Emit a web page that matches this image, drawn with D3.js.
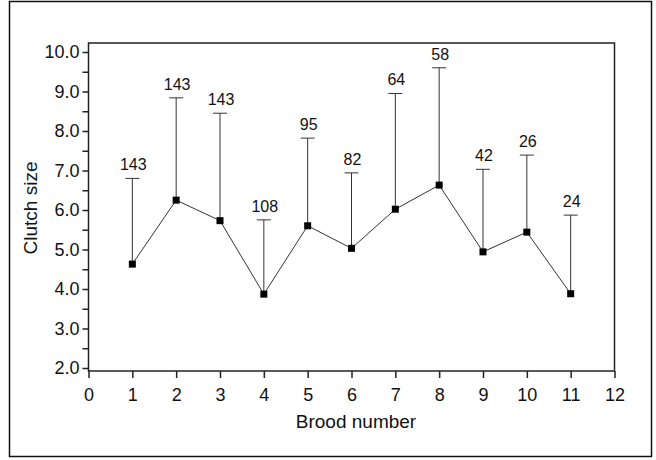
<!DOCTYPE html>
<html>
<head>
<meta charset="utf-8">
<script src="https://cdn.jsdelivr.net/npm/d3@7"></script>
<style>
  body { margin: 0; background: #fff; }
  text { font-family: "Liberation Sans", Arial, sans-serif; fill: #111; }
</style>
</head>
<body>
<div id="chart"></div>
<script>
// brood number, mean clutch size, upper end of the bar and n over each bar
var brood = [1, 2, 3, 4, 5, 6, 7, 8, 9, 10, 11];
var meanSize = [4.63, 6.25, 5.73, 3.87, 5.60, 5.03, 6.02, 6.63, 4.94, 5.44, 3.88];
var upperSize = [6.80, 8.84, 8.45, 5.75, 7.82, 6.94, 8.95, 9.60, 7.03, 7.39, 5.87];
var nLabels = ["143", "143", "143", "108", "95", "82", "64", "58", "42", "26", "24"];
var xTicks = [0, 1, 2, 3, 4, 5, 6, 7, 8, 9, 10, 11, 12];
var yTicks = [2, 2.5, 3, 3.5, 4, 4.5, 5, 5.5, 6, 6.5, 7, 7.5, 8, 8.5, 9, 9.5, 10];

var width = 656,
  height = 460;

var svg = d3
  .select("#chart")
  .append("svg")
  .attr("width", width)
  .attr("height", height);

// outer frame
svg
  .append("rect")
  .attr("x", 9.5)
  .attr("y", 1.5)
  .attr("width", 642)
  .attr("height", 455)
  .attr("fill", "none")
  .attr("stroke", "#111")
  .attr("stroke-width", 1.5);

var x = d3.scaleLinear().domain([0, 12]).range([88.5, 614.5]);
var y = d3.scaleLinear().domain([1.924, 10.228]).range([371, 43]);

// plot box
svg
  .append("rect")
  .attr("x", x(0))
  .attr("y", y.range()[1])
  .attr("width", x(12) - x(0))
  .attr("height", y.range()[0] - y.range()[1])
  .attr("fill", "none")
  .attr("stroke", "#222")
  .attr("stroke-width", 1.5);

var yAxis = svg
  .append("g")
  .attr("transform", "translate(" + x(0) + ",0)")
  .call(
    d3
      .axisLeft(y)
      .tickValues(yTicks)
      .tickSize(6)
      .tickPadding(3)
      .tickFormat(function(d) {
        return d % 1 === 0 ? d3.format(".1f")(d) : "";
      })
  );
yAxis.select(".domain").remove();
yAxis.selectAll("line").attr("stroke", "#222").attr("stroke-width", 1.5);
yAxis
  .selectAll("text")
  .style("font-family", "Liberation Sans, Arial, sans-serif")
  .style("font-size", "18px")
  .attr("fill", "#111");

var xAxis = svg
  .append("g")
  .attr("transform", "translate(0," + y.range()[0] + ")")
  .call(
    d3
      .axisBottom(x)
      .tickValues(xTicks)
      .tickSize(7)
      .tickPadding(10)
      .tickFormat(d3.format("d"))
  );
xAxis.select(".domain").remove();
xAxis.selectAll("line").attr("stroke", "#222").attr("stroke-width", 1.5);
xAxis
  .selectAll("text")
  .style("font-family", "Liberation Sans, Arial, sans-serif")
  .style("font-size", "18px")
  .attr("fill", "#111");

// axis titles
svg
  .append("text")
  .attr("transform", "translate(37,208) rotate(-90)")
  .attr("text-anchor", "middle")
  .style("font-size", "19px")
  .text("Clutch size");

svg
  .append("text")
  .attr("x", 356)
  .attr("y", 428)
  .attr("text-anchor", "middle")
  .style("font-size", "19px")
  .text("Brood number");

var pts = brood.map(function(b, i) {
  return { b: b, mean: meanSize[i], up: upperSize[i], n: nLabels[i] };
});

// error bars (upper only)
svg
  .selectAll(".bar")
  .data(pts)
  .enter()
  .append("line")
  .attr("x1", d => x(d.b))
  .attr("x2", d => x(d.b))
  .attr("y1", d => y(d.mean))
  .attr("y2", d => y(d.up))
  .attr("stroke", "#333")
  .attr("stroke-width", 1);

svg
  .selectAll(".cap")
  .data(pts)
  .enter()
  .append("line")
  .attr("x1", d => x(d.b) - 7)
  .attr("x2", d => x(d.b) + 7)
  .attr("y1", d => y(d.up))
  .attr("y2", d => y(d.up))
  .attr("stroke", "#333")
  .attr("stroke-width", 1);

// connecting line
var line = d3
  .line()
  .x(d => x(d.b))
  .y(d => y(d.mean));

svg
  .append("path")
  .datum(pts)
  .attr("d", line)
  .attr("fill", "none")
  .attr("stroke", "#333")
  .attr("stroke-width", 1);

svg
  .selectAll(".pt")
  .data(pts)
  .enter()
  .append("rect")
  .attr("x", d => x(d.b) - 3.5)
  .attr("y", d => y(d.mean) - 3.5)
  .attr("width", 7)
  .attr("height", 7)
  .attr("fill", "#000");

svg
  .selectAll(".nlab")
  .data(pts)
  .enter()
  .append("text")
  .attr("x", d => x(d.b) + 1)
  .attr("y", d => y(d.up) - 8)
  .attr("text-anchor", "middle")
  .style("font-size", "16px")
  .text(d => d.n);
</script>
</body>
</html>
